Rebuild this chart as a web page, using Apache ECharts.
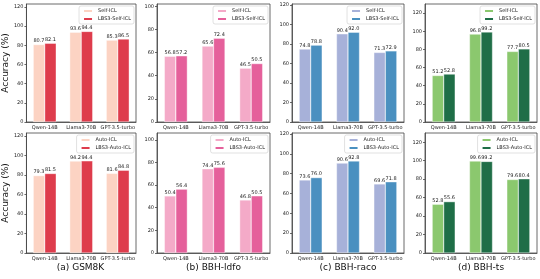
<!DOCTYPE html>
<html><head><meta charset="utf-8">
<script src="https://cdn.jsdelivr.net/npm/echarts@6/dist/echarts.min.js"></script>
<style>html,body{margin:0;padding:0;background:#fff}#c{width:540px;height:279px}</style>
</head><body><div id="c"></div>
<script>
const categories = ['Qwen-14B', 'Llama3-70B', 'GPT-3.5-turbo'];
const panelTitles = ['(a) GSM8K', '(b) BBH-ldfo', '(c) BBH-raco', '(d) BBH-ts'];
const topNames = ['Self-ICL', 'LBS3-Self-ICL'];
const bottomNames = ['Auto-ICL', 'LBS3-Auto-ICL'];

// top row (Self-ICL)
const gsmSelf = [80.7, 93.6, 85.3];
const gsmLbsSelf = [82.1, 94.4, 86.5];
const ldfoSelf = [56.8, 65.6, 46.5];
const ldfoLbsSelf = [57.2, 72.4, 50.5];
const racoSelf = [74.8, 90.4, 71.3];
const racoLbsSelf = [78.8, 92.0, 72.9];
const tsSelf = [51.2, 96.8, 77.7];
const tsLbsSelf = [52.8, 99.2, 80.5];
// bottom row (Auto-ICL)
const gsmAuto = [79.3, 94.2, 81.6];
const gsmLbsAuto = [81.5, 94.4, 84.8];
const ldfoAuto = [50.4, 74.4, 46.8];
const ldfoLbsAuto = [56.4, 75.6, 50.5];
const racoAuto = [73.6, 90.6, 69.6];
const racoLbsAuto = [76.0, 92.8, 71.8];
const tsAuto = [52.8, 99.6, 79.6];
const tsLbsAuto = [55.6, 99.2, 80.4];

const ticks120 = [0, 20, 40, 60, 80, 100, 120];
const ticks100 = [0, 20, 40, 60, 80, 100];
const yMaxTop = [123, 102, 121, 130];
const yMaxBottom = [123, 106, 121, 130];

const colorsLight = ['#fcd3c3', '#f4aac8', '#a7b1d9', '#8bc86e'];
const colorsDark = ['#de3c4c', '#e5609b', '#4a90c0', '#1f6e47'];

const topData = [[gsmSelf, gsmLbsSelf], [ldfoSelf, ldfoLbsSelf], [racoSelf, racoLbsSelf], [tsSelf, tsLbsSelf]];
const bottomData = [[gsmAuto, gsmLbsAuto], [ldfoAuto, ldfoLbsAuto], [racoAuto, racoLbsAuto], [tsAuto, tsLbsAuto]];

const colLeft = [25, 157, 292, 425];
const colWidth = [111, 113, 112, 112];
const rowTop = [4, 133];
const rowHeight = [118, 120];
const FONT = 'DejaVu Sans';

const grids = [], xAxes = [], yAxes = [], series = [], legends = [], titles = [];
let zw = '';
for (let r = 0; r < 2; r++) {
  for (let c = 0; c < 4; c++) {
    const idx = r * 4 + c;
    grids.push({left: colLeft[c], top: rowTop[r], width: colWidth[c], height: rowHeight[r],
      show: true, borderColor: '#444', borderWidth: 0.8, containLabel: false});
    xAxes.push({type: 'category', gridIndex: idx, data: categories,
      axisLine: {lineStyle: {color: '#444', width: 0.8}},
      axisTick: {alignWithLabel: true, length: 2, lineStyle: {color: '#444', width: 0.8}},
      axisLabel: {fontSize: 5, color: '#222', margin: 3, fontFamily: FONT, interval: 0}});
    const tv = c === 1 ? ticks100 : ticks120;
    yAxes.push({type: 'value', gridIndex: idx, min: 0, max: (r === 0 ? yMaxTop : yMaxBottom)[c],
      splitLine: {show: false},
      axisLine: {show: true, lineStyle: {color: '#444', width: 0.8}},
      axisTick: {show: true, length: 2, customValues: tv, lineStyle: {color: '#444', width: 0.8}},
      axisLabel: {fontSize: 5, color: '#222', margin: 3, fontFamily: FONT, customValues: tv},
      name: c === 0 ? 'Accuracy (%)' : '', nameLocation: 'middle', nameGap: 14,
      nameTextStyle: {fontSize: 9, color: '#111', fontFamily: FONT}});
    const names = r === 0 ? topNames : bottomNames;
    const data = r === 0 ? topData[c] : bottomData[c];
    zw += '\u200b';
    const n0 = names[0] + zw, n1 = names[1] + zw;
    [n0, n1].forEach((nm, k) => {
      series.push({type: 'bar', name: nm, xAxisIndex: idx, yAxisIndex: idx,
        data: data[k], barWidth: 11.5, barGap: '0%',
        itemStyle: {color: k === 0 ? colorsLight[c] : colorsDark[c], borderColor: '#fff', borderWidth: 0.4},
        label: {show: true, position: 'top', distance: 1, fontSize: 5, color: '#222', fontFamily: FONT,
          formatter: p => p.value.toFixed(1)}});
    });
    legends.push({data: [n0, n1], orient: 'vertical',
      right: 540 - (colLeft[c] + colWidth[c]) + 2, top: rowTop[r] + 2,
      itemWidth: 10, itemHeight: 4, itemGap: 2, padding: [2, 3, 2, 3],
      borderColor: '#ccc', borderWidth: 0.6, borderRadius: 2, backgroundColor: '#fff',
      textStyle: {fontSize: 5, color: '#222', fontFamily: FONT},
      formatter: s => s.replace(/\u200b/g, ''), selectedMode: false});
  }
}
for (let c = 0; c < 4; c++) {
  titles.push({text: panelTitles[c], left: colLeft[c] + colWidth[c] / 2, top: 263, textAlign: 'center',
    padding: 0, textStyle: {fontSize: 9, fontWeight: 'normal', color: '#111', fontFamily: FONT}});
}
const chart = echarts.init(document.getElementById('c'), null, {renderer: 'canvas'});
chart.setOption({animation: false, title: titles, grid: grids, xAxis: xAxes, yAxis: yAxes,
  series: series, legend: legends});
</script></body></html>
